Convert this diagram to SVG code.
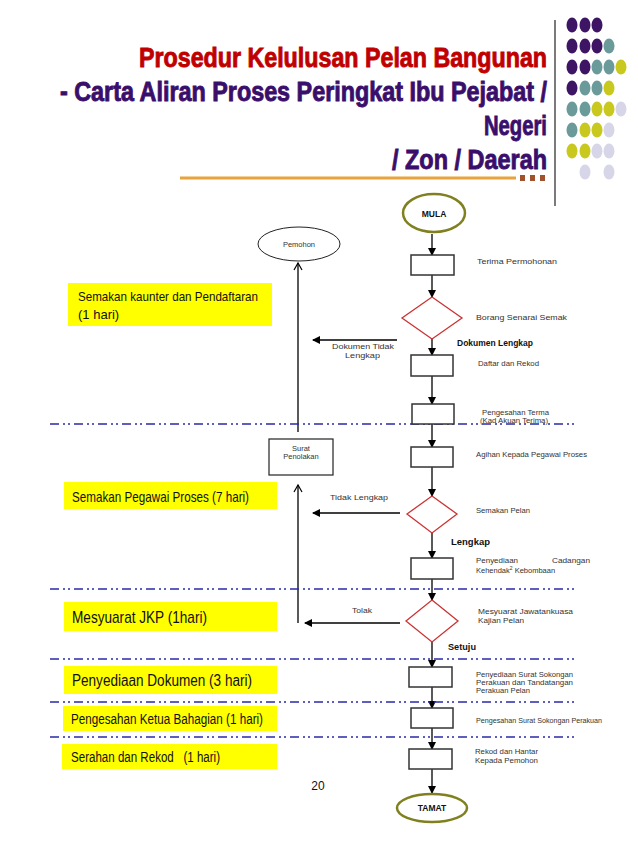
<svg xmlns="http://www.w3.org/2000/svg" width="638" height="851" viewBox="0 0 638 851">
<style>
.t1{font-family:"Liberation Sans",Arial,sans-serif;font-weight:bold;font-size:28px;stroke-width:0.9px}
.t2{font-family:"Liberation Sans",Arial,sans-serif;font-weight:bold;font-size:27px;stroke-width:0.9px}
.lbl{font-family:"Liberation Sans",Arial,sans-serif;font-size:7.5px;fill:#333}
.bl{font-family:"Liberation Sans",Arial,sans-serif;font-size:8.5px;font-weight:bold;fill:#111}
.yl{font-family:"Liberation Sans",Arial,sans-serif;fill:#111}
.box{fill:#fff;stroke:#333;stroke-width:1.5}
.dia{fill:#fff;stroke:#cc3333;stroke-width:1.3}
.term{fill:#fff;stroke:#808020;stroke-width:2.5}
.ybox{fill:#ffff00}
.dash{stroke:#2a2aa8;stroke-width:1.5;stroke-dasharray:9 4 2 3 2 4;fill:none}
.con{stroke:#000;stroke-width:1.3;fill:none}
.pu{fill:#3e1465}.te{fill:#6b9a9a}.ye{fill:#c8c81e}.la{fill:#d6d6e8}
</style>
<defs>
<marker id="ah" markerWidth="8" markerHeight="8" refX="7" refY="4" orient="auto" markerUnits="userSpaceOnUse">
<path d="M0,0 L8,4 L0,8 Z" fill="#000"/>
</marker>
<marker id="oh" markerWidth="10" markerHeight="10" refX="8" refY="5" orient="auto" markerUnits="userSpaceOnUse">
<path d="M1,1 L8,5 L1,9" fill="none" stroke="#000" stroke-width="1.2"/>
</marker>
</defs>
<rect width="638" height="851" fill="#fff"/>

<!-- Title -->
<g id="title">
<text class="t1" x="343" y="67" text-anchor="middle" fill="#c00000" stroke="#c00000" textLength="408" lengthAdjust="spacingAndGlyphs">Prosedur Kelulusan Pelan Bangunan</text>
<text class="t2" x="60" y="101" text-anchor="start" fill="#3a0f6b" stroke="#3a0f6b" textLength="487" lengthAdjust="spacingAndGlyphs">- Carta Aliran Proses Peringkat Ibu Pejabat /</text>
<text class="t1" x="515.5" y="135" text-anchor="middle" fill="#3a0f6b" stroke="#3a0f6b" textLength="63" lengthAdjust="spacingAndGlyphs">Negeri</text>
<text class="t1" x="469.5" y="169" text-anchor="middle" fill="#3a0f6b" stroke="#3a0f6b" textLength="155" lengthAdjust="spacingAndGlyphs">/ Zon / Daerah</text>
<line x1="180" y1="178" x2="516" y2="178" stroke="#e8a33d" stroke-width="3"/>
<rect x="520" y="175" width="5" height="6" fill="#a0522d"/>
<rect x="530" y="175" width="5" height="6" fill="#a0522d"/>
<rect x="540" y="175" width="5" height="6" fill="#a0522d"/>
<line x1="555" y1="20" x2="555" y2="206" stroke="#222" stroke-width="1.2"/>
</g>

<!-- Dots -->
<g id="dots">
<ellipse class="pu" cx="572" cy="25" rx="5.5" ry="7.5"/><ellipse class="pu" cx="585" cy="25" rx="5.5" ry="7.5"/><ellipse class="pu" cx="597" cy="25" rx="5.5" ry="7.5"/>
<ellipse class="pu" cx="572" cy="46" rx="5.5" ry="7.5"/><ellipse class="pu" cx="585" cy="46" rx="5.5" ry="7.5"/><ellipse class="pu" cx="597" cy="46" rx="5.5" ry="7.5"/><ellipse class="te" cx="609" cy="46" rx="5.5" ry="7.5"/>
<ellipse class="pu" cx="572" cy="67" rx="5.5" ry="7.5"/><ellipse class="pu" cx="585" cy="67" rx="5.5" ry="7.5"/><ellipse class="te" cx="597" cy="67" rx="5.5" ry="7.5"/><ellipse class="te" cx="609" cy="67" rx="5.5" ry="7.5"/><ellipse class="ye" cx="621" cy="67" rx="5.5" ry="7.5"/>
<ellipse class="pu" cx="572" cy="88" rx="5.5" ry="7.5"/><ellipse class="te" cx="585" cy="88" rx="5.5" ry="7.5"/><ellipse class="te" cx="597" cy="88" rx="5.5" ry="7.5"/><ellipse class="ye" cx="609" cy="88" rx="5.5" ry="7.5"/>
<ellipse class="te" cx="572" cy="109" rx="5.5" ry="7.5"/><ellipse class="te" cx="585" cy="109" rx="5.5" ry="7.5"/><ellipse class="ye" cx="597" cy="109" rx="5.5" ry="7.5"/><ellipse class="ye" cx="609" cy="109" rx="5.5" ry="7.5"/><ellipse class="la" cx="621" cy="109" rx="5.5" ry="7.5"/>
<ellipse class="te" cx="572" cy="130" rx="5.5" ry="7.5"/><ellipse class="ye" cx="585" cy="130" rx="5.5" ry="7.5"/><ellipse class="ye" cx="597" cy="130" rx="5.5" ry="7.5"/><ellipse class="la" cx="609" cy="130" rx="5.5" ry="7.5"/>
<ellipse class="ye" cx="572" cy="151" rx="5.5" ry="7.5"/><ellipse class="ye" cx="585" cy="151" rx="5.5" ry="7.5"/><ellipse class="la" cx="597" cy="151" rx="5.5" ry="7.5"/><ellipse class="la" cx="609" cy="151" rx="5.5" ry="7.5"/>
<ellipse class="la" cx="585" cy="172" rx="5.5" ry="7.5"/><ellipse class="la" cx="609" cy="172" rx="5.5" ry="7.5"/>
</g>

<!-- Yellow stage labels -->
<g id="stage1"><rect class="ybox" x="68" y="283" width="204" height="43"/>
<text class="yl" x="78" y="301" font-size="13" textLength="180" lengthAdjust="spacingAndGlyphs">Semakan kaunter dan Pendaftaran</text>
<text class="yl" x="78" y="319" font-size="13">(1 hari)</text></g>
<g id="stage2"><rect class="ybox" x="64" y="482" width="213" height="27"/>
<text class="yl" x="72" y="502" font-size="15" textLength="177" lengthAdjust="spacingAndGlyphs">Semakan Pegawai Proses (7 hari)</text></g>
<g id="stage3"><rect class="ybox" x="64" y="602" width="213" height="29"/>
<text class="yl" x="72" y="623" font-size="17" textLength="135" lengthAdjust="spacingAndGlyphs">Mesyuarat JKP (1hari)</text></g>
<g id="stage4"><rect class="ybox" x="64" y="666" width="213" height="28"/>
<text class="yl" x="72" y="686" font-size="16" textLength="180" lengthAdjust="spacingAndGlyphs">Penyediaan Dokumen (3 hari)</text></g>
<g id="stage5"><rect class="ybox" x="63" y="706" width="214" height="25"/>
<text class="yl" x="71" y="724" font-size="14" textLength="192" lengthAdjust="spacingAndGlyphs">Pengesahan Ketua Bahagian (1 hari)</text></g>
<g id="stage6"><rect class="ybox" x="62" y="744" width="215" height="25"/>
<text class="yl" x="71" y="762" font-size="14" textLength="149" lengthAdjust="spacingAndGlyphs" xml:space="preserve">Serahan dan Rekod   (1 hari)</text></g>
<text class="yl" x="318" y="790" font-size="12" text-anchor="middle">20</text>

<!-- Connectors -->
<g id="connectors">
<line class="con" x1="432" y1="234" x2="432" y2="255" marker-end="url(#ah)"/>
<line class="con" x1="432" y1="275" x2="432" y2="297" marker-end="url(#ah)"/>
<line class="con" x1="432" y1="339" x2="432" y2="355" marker-end="url(#ah)"/>
<line class="con" x1="432" y1="376" x2="432" y2="404" marker-end="url(#ah)"/>
<line class="con" x1="432" y1="424" x2="432" y2="447" marker-end="url(#ah)"/>
<line class="con" x1="432" y1="467" x2="432" y2="496" marker-end="url(#ah)"/>
<line class="con" x1="432" y1="533" x2="432" y2="558" marker-end="url(#ah)"/>
<line class="con" x1="432" y1="579" x2="432" y2="600" marker-end="url(#ah)"/>
<line class="con" x1="432" y1="642" x2="432" y2="667" marker-end="url(#ah)"/>
<line class="con" x1="432" y1="687" x2="432" y2="708" marker-end="url(#ah)"/>
<line class="con" x1="432" y1="728" x2="432" y2="749" marker-end="url(#ah)"/>
<line class="con" x1="432" y1="769" x2="432" y2="793" marker-end="url(#ah)"/>
<line class="con" x1="397" y1="340" x2="313" y2="340" marker-end="url(#ah)"/>
<line class="con" x1="400" y1="513" x2="313" y2="513" marker-end="url(#ah)"/>
<line class="con" x1="400" y1="623" x2="305" y2="623" marker-end="url(#ah)"/>
<line class="con" x1="298" y1="432" x2="298" y2="263" marker-end="url(#oh)"/>
<line class="con" x1="298" y1="623" x2="298" y2="485" marker-end="url(#oh)"/>
<text class="lbl" x="332" y="349" textLength="62" lengthAdjust="spacingAndGlyphs">Dokumen Tidak</text>
<text class="lbl" x="345" y="358" textLength="35" lengthAdjust="spacingAndGlyphs">Lengkap</text>
<text class="lbl" x="330" y="500" textLength="58" lengthAdjust="spacingAndGlyphs">Tidak Lengkap</text>
<text class="lbl" x="352" y="613" textLength="20" lengthAdjust="spacingAndGlyphs">Tolak</text>
<text class="bl" x="457" y="346" font-size="8" textLength="76" lengthAdjust="spacingAndGlyphs">Dokumen Lengkap</text>
<text class="bl" x="451" y="545" font-size="9.5" textLength="39" lengthAdjust="spacingAndGlyphs">Lengkap</text>
<text class="bl" x="448" y="650" font-size="8.5" textLength="28" lengthAdjust="spacingAndGlyphs">Setuju</text>
</g>

<!-- Dashed stage separators -->
<g id="separators">
<line class="dash" x1="50" y1="424" x2="575" y2="424"/>
<line class="dash" x1="50" y1="589" x2="575" y2="589"/>
<line class="dash" x1="50" y1="659" x2="575" y2="659"/>
<line class="dash" x1="50" y1="702" x2="575" y2="702"/>
<line class="dash" x1="50" y1="737" x2="575" y2="737"/>
</g>

<!-- Nodes -->
<g id="mula"><ellipse class="term" cx="434" cy="213" rx="31" ry="19"/>
<text class="bl" x="434" y="217" font-size="9" text-anchor="middle">MULA</text></g>
<g id="terima"><rect class="box" x="411" y="255" width="43" height="20"/>
<text class="lbl" x="477" y="264" textLength="80" lengthAdjust="spacingAndGlyphs">Terima Permohonan</text></g>
<g id="borang"><polygon class="dia" points="432,297 462,318 432,339 402,318"/>
<text class="lbl" x="476" y="320" textLength="91" lengthAdjust="spacingAndGlyphs">Borang Senarai Semak</text></g>
<g id="daftar"><rect class="box" x="411" y="355" width="42" height="21"/>
<text class="lbl" x="478" y="366" font-size="7" textLength="61" lengthAdjust="spacingAndGlyphs">Daftar dan Rekod</text></g>
<g id="pengesahan-terma"><rect class="box" x="412" y="404" width="42" height="20"/>
<text class="lbl" x="482" y="415" font-size="7" textLength="67" lengthAdjust="spacingAndGlyphs">Pengesahan Terma</text>
<text class="lbl" x="480" y="423" font-size="7" textLength="68" lengthAdjust="spacingAndGlyphs">(Kad Akuan Terima)</text></g>
<g id="agihan"><rect class="box" x="411" y="447" width="42" height="20"/>
<text class="lbl" x="476" y="457" font-size="7" textLength="111" lengthAdjust="spacingAndGlyphs">Agihan Kepada Pegawai Proses</text></g>
<g id="semakan-pelan"><polygon class="dia" points="432,496 457,514 432,533 407,514"/>
<text class="lbl" x="476" y="513" font-size="7" textLength="54" lengthAdjust="spacingAndGlyphs">Semakan Pelan</text></g>
<g id="cadangan"><rect class="box" x="411" y="558" width="42" height="21"/>
<text class="lbl" x="476" y="563" font-size="7" textLength="42" lengthAdjust="spacingAndGlyphs">Penyediaan</text>
<text class="lbl" x="552" y="563" font-size="7" textLength="38" lengthAdjust="spacingAndGlyphs">Cadangan</text>
<text class="lbl" x="476" y="573" font-size="7">Kehendak<tspan font-size="5" dy="-3">2</tspan><tspan dy="3"> Kebombaan</tspan></text></g>
<g id="mesyuarat"><polygon class="dia" points="432,600 458,621 432,642 406,621"/>
<text class="lbl" x="478" y="614" textLength="95" lengthAdjust="spacingAndGlyphs">Mesyuarat Jawatankuasa</text>
<text class="lbl" x="478" y="623" textLength="46" lengthAdjust="spacingAndGlyphs">Kajian Pelan</text></g>
<g id="surat-sokongan"><rect class="box" x="409" y="667" width="43" height="20"/>
<text class="lbl" x="476" y="677" font-size="7" textLength="97" lengthAdjust="spacingAndGlyphs">Penyediaan Surat Sokongan</text>
<text class="lbl" x="476" y="685" font-size="7" textLength="97" lengthAdjust="spacingAndGlyphs">Perakuan dan Tandatangan</text>
<text class="lbl" x="476" y="693" font-size="7" textLength="54" lengthAdjust="spacingAndGlyphs">Perakuan Pelan</text></g>
<g id="pengesahan-surat"><rect class="box" x="411" y="708" width="42" height="20"/>
<text class="lbl" x="476" y="723" font-size="7" textLength="126" lengthAdjust="spacingAndGlyphs">Pengesahan Surat Sokongan Perakuan</text></g>
<g id="rekod"><rect class="box" x="409" y="749" width="43" height="20"/>
<text class="lbl" x="475" y="754" font-size="7" textLength="63" lengthAdjust="spacingAndGlyphs">Rekod dan Hantar</text>
<text class="lbl" x="475" y="763" font-size="7" textLength="63" lengthAdjust="spacingAndGlyphs">Kepada Pemohon</text></g>
<g id="tamat"><ellipse class="term" cx="432" cy="808" rx="35" ry="14"/>
<text class="bl" x="432" y="811" font-size="8.5" text-anchor="middle">TAMAT</text></g>
<g id="pemohon"><ellipse fill="#fff" stroke="#222" stroke-width="1" cx="299" cy="244" rx="41" ry="17"/>
<text class="lbl" x="299" y="247" font-size="7" text-anchor="middle">Pemohon</text></g>
<g id="surat-penolakan"><rect fill="#fff" stroke="#222" stroke-width="1.2" x="269" y="439" width="64" height="36"/>
<text class="lbl" x="301" y="451" font-size="6.5" text-anchor="middle">Surat</text>
<text class="lbl" x="301" y="459" font-size="6.5" text-anchor="middle">Penolakan</text></g>
</svg>
